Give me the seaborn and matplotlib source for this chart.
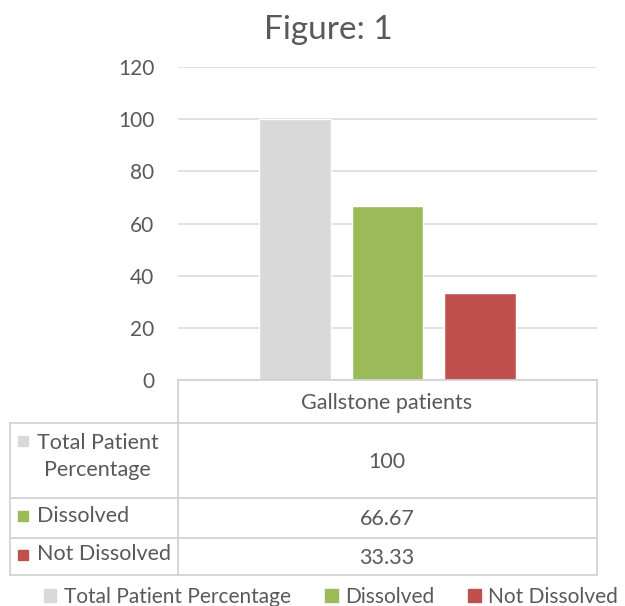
import pandas as pd
import matplotlib.pyplot as plt
import seaborn as sns
from matplotlib.lines import Line2D
from matplotlib.patches import Rectangle

# --- DATA
category = "Gallstone patients"
series = ["Total Patient Percentage", "Dissolved", "Not Dissolved"]
row_labels = ["Total Patient\nPercentage", "Dissolved", "Not Dissolved"]
values = [100, 66.67, 33.33]
value_text = ["100", "66.67", "33.33"]
colors = ["#D9D9D9", "#9BBB59", "#C0504D"]
yticks = [0, 20, 40, 60, 80, 100, 120]

df = pd.DataFrame({"group": [category] * 3, "series": series, "value": values})

W, H = 625, 606
def fx(px):
    return px / W
def fy(py):
    return 1 - py / H

sns.set_style("white")
plt.rcParams["font.family"] = ["Lato", "DejaVu Sans"]
txt = "#595959"
grid_c = "#D9D9D9"
fs = 15.5

fig = plt.figure(figsize=(W / 100, H / 100), dpi=100)
ax = fig.add_axes([fx(178), fy(380), fx(597) - fx(178), fy(67) - fy(380)])

sns.barplot(data=df, x="group", y="value", hue="series", hue_order=series,
            palette=colors, width=0.66, gap=0.22, saturation=1, ax=ax,
            legend=False)

ax.set_ylim(0, 120)
ax.set_xlim(-0.5, 0.5)
ax.set_yticks(yticks)
ax.set_yticklabels([str(t) for t in yticks], fontsize=15, color=txt)
ax.tick_params(axis="y", length=0, pad=17)
ax.set_xticks([])
ax.set_xlabel("")
ax.set_ylabel("")
ax.yaxis.grid(True, color=grid_c, linewidth=1.1)
ax.set_axisbelow(True)
for s in ax.spines.values():
    s.set_visible(False)

fig.text(fx(328), fy(30), "Figure: 1", ha="center", va="center",
         fontsize=24, color=txt)

# --- DATA TABLE
line_c = "#D0D0D0"
def hline(y, x0, x1):
    fig.add_artist(Line2D([fx(x0), fx(x1)], [fy(y), fy(y)], color=line_c,
                          lw=1.2, transform=fig.transFigure))
def vline(x, y0, y1):
    fig.add_artist(Line2D([fx(x), fx(x)], [fy(y0), fy(y1)], color=line_c,
                          lw=1.2, transform=fig.transFigure))

row_edges = [423, 498, 538, 575]
hline(380, 178, 597)
for y in row_edges:
    hline(y, 10, 597)
vline(178, 380, 575)
vline(597, 380, 575)
vline(10, 423, 575)

fig.text(fx(387), fy(403), category, ha="center", va="center",
         fontsize=fs, color=txt)

for i in range(3):
    y0, y1 = row_edges[i], row_edges[i + 1]
    yc = (y0 + y1) / 2
    fig.text(fx(387), fy(yc + 1), value_text[i], ha="center", va="center",
             fontsize=fs, color=txt)
    ly = yc - 2 if i > 0 else yc - 4
    fig.text(fx(37), fy(ly), row_labels[i], ha="left", va="center",
             fontsize=fs, color=txt, multialignment="center", linespacing=1.45)
    sq_y = yc - 2 if i > 0 else 441
    fig.add_artist(Rectangle((fx(18), fy(sq_y + 5)), fx(10), 10 / H,
                             color=colors[i], transform=fig.transFigure))

# --- LEGEND
handles = [Rectangle((0, 0), 1, 1, color=c) for c in colors]
fig.legend(handles, series, loc="center", bbox_to_anchor=(fx(331), fy(597)),
           ncol=3, frameon=False, fontsize=15, handlelength=0.6,
           handleheight=0.6, handletextpad=0.35, columnspacing=1.65,
           labelcolor=txt, borderpad=0.2, borderaxespad=0)

fig.savefig("out.png", dpi=100)
